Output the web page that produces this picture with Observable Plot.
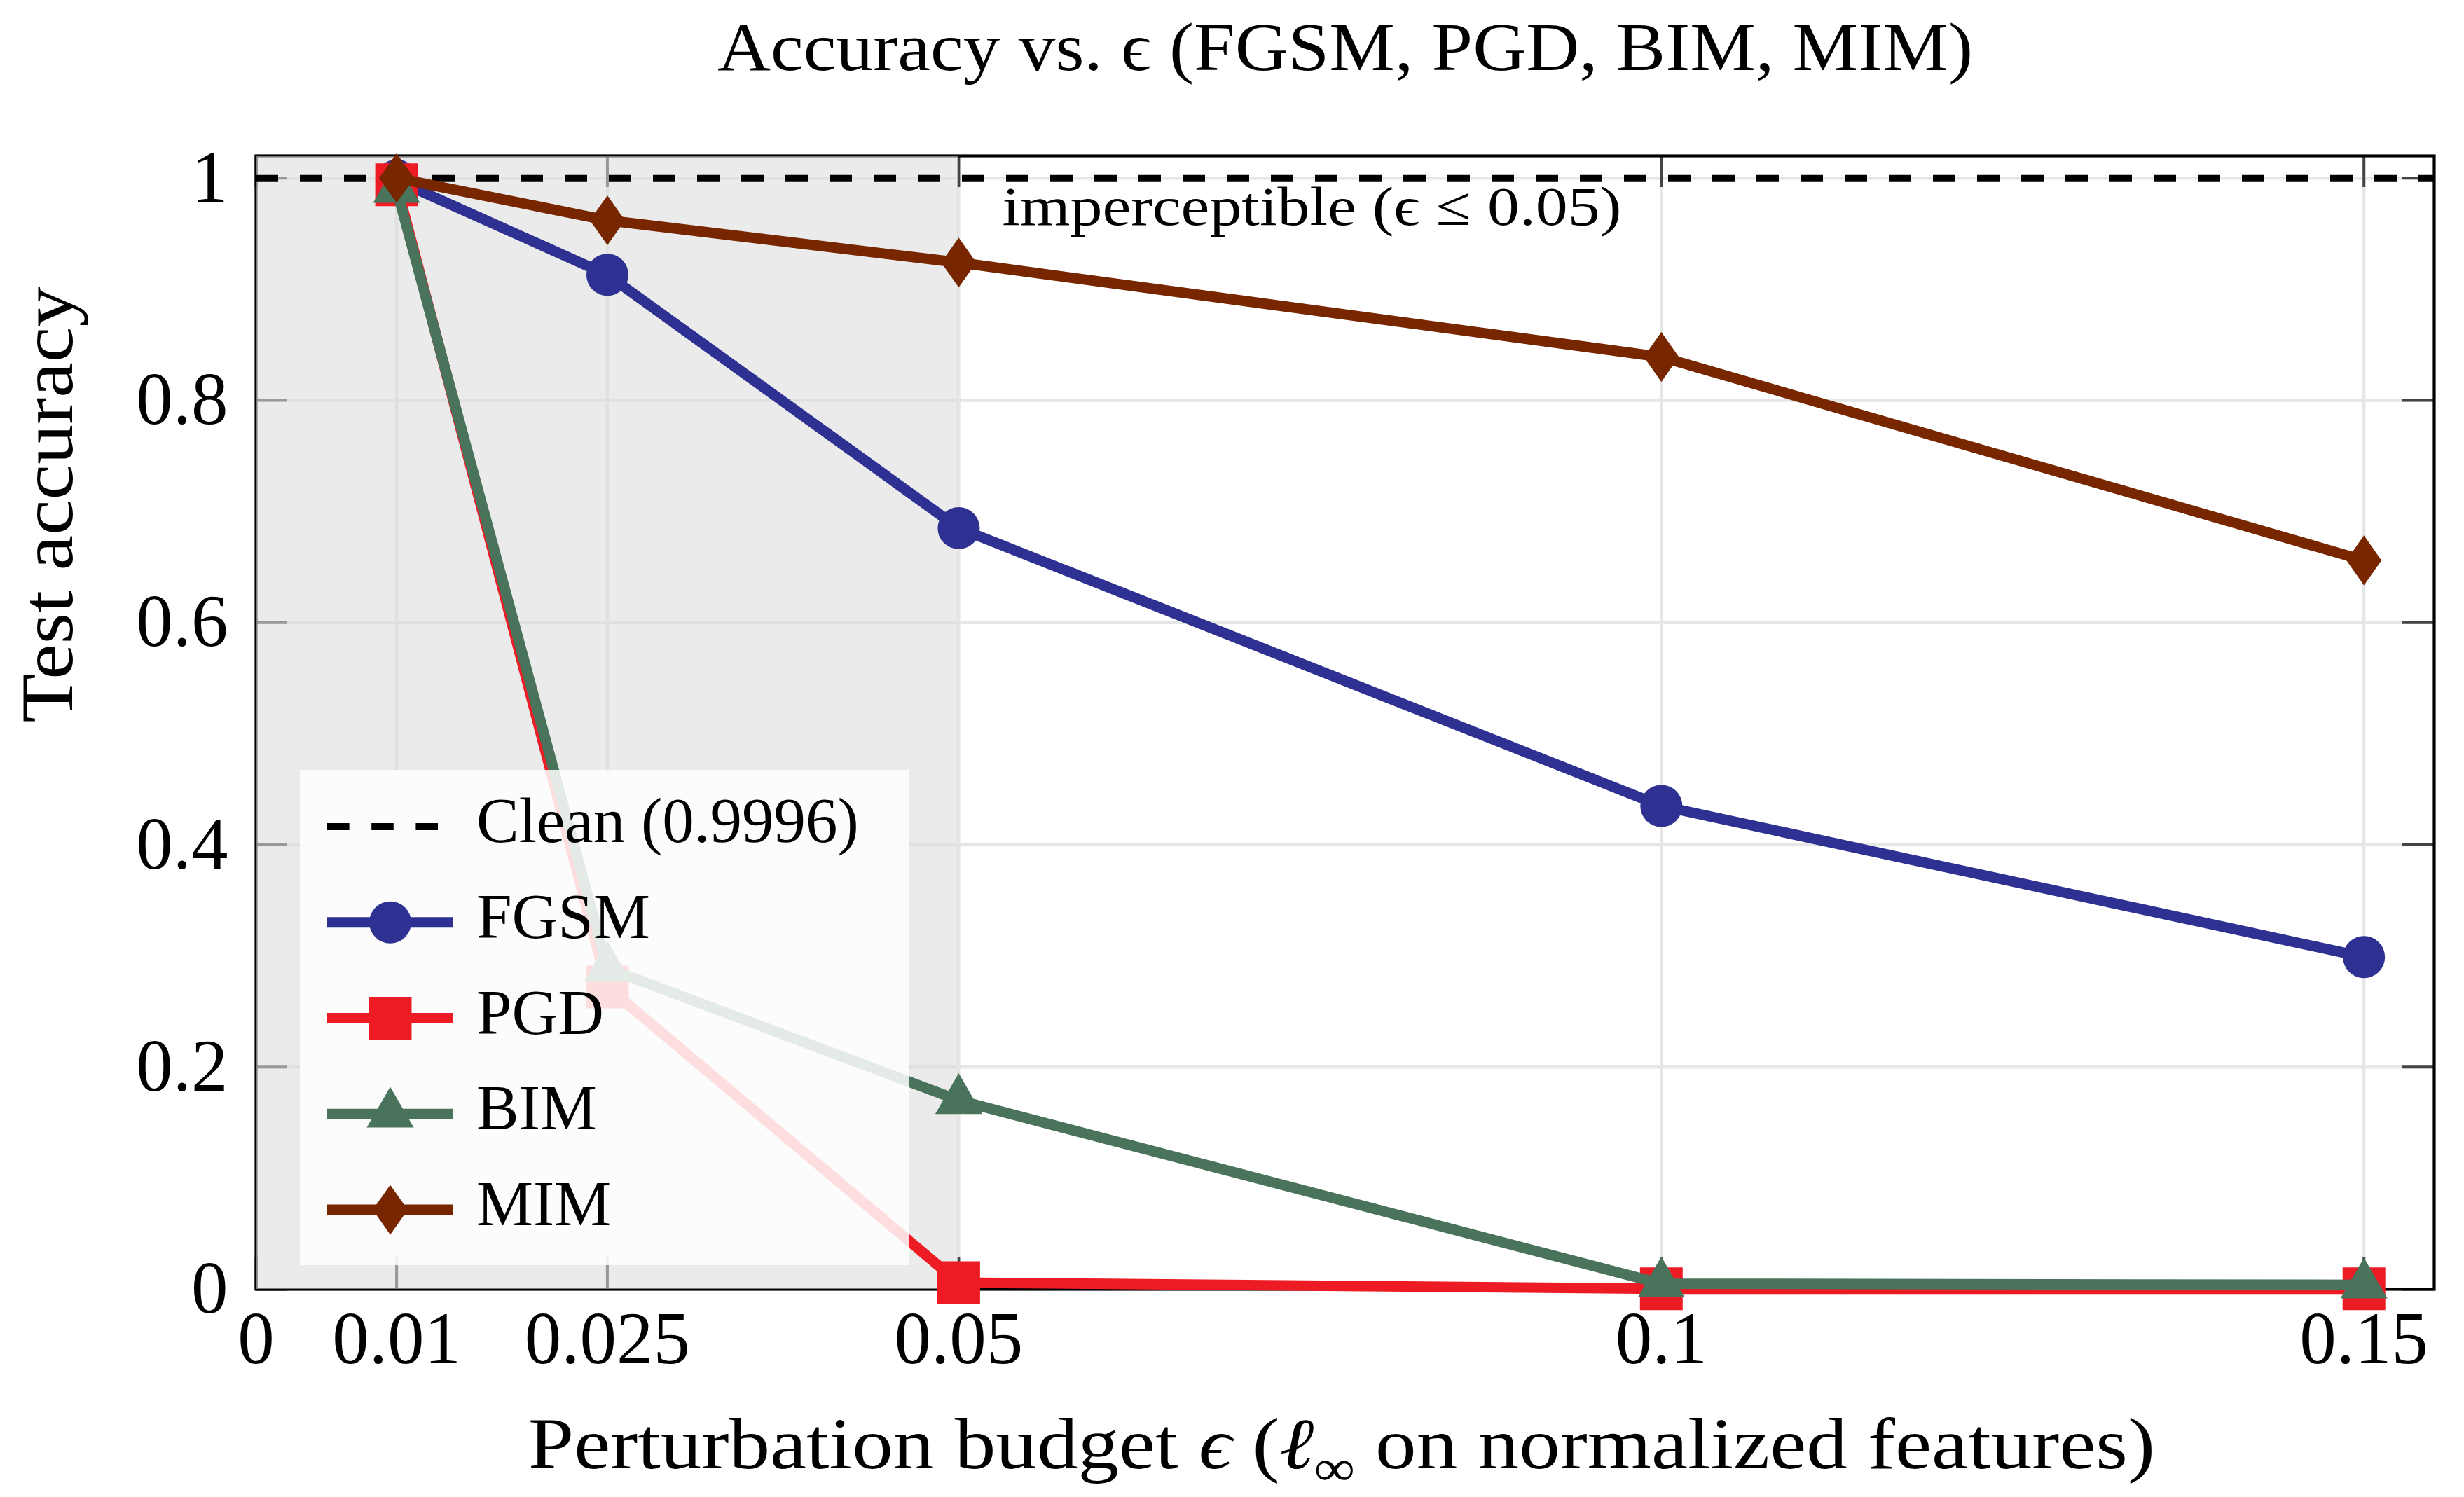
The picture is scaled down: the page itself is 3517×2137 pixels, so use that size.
<!DOCTYPE html>
<html>
<head>
<meta charset="utf-8">
<script src="https://cdn.jsdelivr.net/npm/d3@7"></script>
<script src="https://cdn.jsdelivr.net/npm/@observablehq/plot@0.6"></script>
<style>
  html, body { margin: 0; padding: 0; background: #ffffff; }
  svg { display: block; }
</style>
</head>
<body>
<div id="chart"></div>
<script>
// ---------- data ----------
const epsilons   = [0.01, 0.025, 0.05, 0.1, 0.15];
const fgsmAcc    = [0.998, 0.913, 0.685, 0.435, 0.299];
const pgdAcc     = [0.994, 0.272, 0.006, 0.0005, 0.0005];
const bimAcc     = [0.990, 0.289, 0.170, 0.005, 0.004];
const mimAcc     = [1.000, 0.962, 0.924, 0.839, 0.656];
const cleanAcc   = 0.9996;
const seriesNames = ["FGSM", "PGD", "BIM", "MIM"];
const seriesValues = [fgsmAcc, pgdAcc, bimAcc, mimAcc];
const xTickValues = [0, 0.01, 0.025, 0.05, 0.1, 0.15];
const yTickValues = [0, 0.2, 0.4, 0.6, 0.8, 1];
const shadedRange = [0, 0.05];
const titleText = "Accuracy vs. ϵ (FGSM, PGD, BIM, MIM)";
const xLabelText = "Perturbation budget ϵ (ℓ∞ on normalized features)";
const yLabelText = "Test accuracy";
const annotationText = "imperceptible (ϵ ≤ 0.05)";
const cleanLabel = "Clean (0.9996)";

// ---------- styles ----------
const seriesColors = ["#2e3192", "#ed1c24", "#4a735b", "#772600"];
const tallDiamond = {
  draw(context, size) {
    const h = Math.sqrt(size / 1.408), w = 0.704 * h;
    context.moveTo(0, -h); context.lineTo(w, 0); context.lineTo(0, h); context.lineTo(-w, 0); context.closePath();
  }
};
const seriesSymbols = [d3.symbolCircle, d3.symbolSquare, d3.symbolTriangle, tallDiamond];
const seriesR = [30, 34.4, 24.9, 23.8];

const W = 3517, H = 2137;
const mL = 365, mR = 43, mT = 222, mB = 297;
const frameW = W - mL - mR, frameH = H - mT - mB;
const tickLen = 45;
const font = "'Liberation Serif', 'DejaVu Serif', serif";

// long table
const rows = seriesNames.flatMap((name, s) => epsilons.map((e, i) => ({series: name, eps: e, acc: seriesValues[s][i]})));

const seriesMarks = seriesNames.flatMap((name, s) => {
  const d = rows.filter(r => r.series === name);
  return [
    Plot.line(d, {x: "eps", y: "acc", stroke: seriesColors[s], strokeWidth: 15, strokeLinejoin: "miter", strokeLinecap: "butt"}),
    Plot.dot(d, {x: "eps", y: "acc", fill: seriesColors[s], stroke: "none", symbol: seriesSymbols[s], r: seriesR[s]})
  ];
});

const svgEl = Plot.plot({
  width: W, height: H,
  marginLeft: mL, marginRight: mR, marginTop: mT, marginBottom: mB,
  style: {fontFamily: font, fontSize: "105px", background: "#ffffff", color: "#000"},
  x: {type: "linear", domain: [0, 0.155]},
  y: {type: "linear", domain: [0, 1.02]},
  marks: [
    Plot.gridX(epsilons, {stroke: "#e6e6e6", strokeOpacity: 1, strokeWidth: 4.5}),
    Plot.gridY(yTickValues.filter(v => v > 0), {stroke: "#e6e6e6", strokeOpacity: 1, strokeWidth: 4.5}),
    Plot.tickY(yTickValues, {y: d => d, stroke: "#444", strokeWidth: 4, insetRight: frameW - tickLen}),
    Plot.tickY(yTickValues, {y: d => d, stroke: "#444", strokeWidth: 4, insetLeft: frameW - tickLen}),
    Plot.tickX(xTickValues, {x: d => d, stroke: "#444", strokeWidth: 4, insetTop: frameH - tickLen}),
    Plot.tickX(xTickValues, {x: d => d, stroke: "#444", strokeWidth: 4, insetBottom: frameH - tickLen}),
    Plot.frame({stroke: "#000", strokeWidth: 4.2}),
    Plot.rect([shadedRange], {x1: d => d[0], x2: d => d[1], fill: "#dbdbdb", fillOpacity: 0.56}),
    Plot.ruleY([cleanAcc], {stroke: "#000", strokeWidth: 10, strokeDasharray: "32,31"}),
    ...seriesMarks,
    Plot.text([annotationText], {x: shadedRange[1], frameAnchor: "top", dx: 62, dy: 98, textAnchor: "start", lineAnchor: "bottom", fontSize: 79, fill: "#000"}),
    Plot.text([titleText], {frameAnchor: "top", dy: -123, lineAnchor: "bottom", fontSize: 98, fill: "#000"}),
    Plot.text([xLabelText], {frameAnchor: "bottom", dx: -5, dy: 255, lineAnchor: "bottom", fontSize: 103, fill: "#000"}),
    Plot.text([yLabelText], {frameAnchor: "left", rotate: -90, dx: -263, lineAnchor: "bottom", fontSize: 106, fill: "#000"}),
    Plot.axisX({ticks: xTickValues, tickFormat: d => String(d), tickSize: 0, tickPadding: 31, fontSize: 105, label: null}),
    Plot.axisY({ticks: yTickValues, tickFormat: d => String(d), tickSize: 0, tickPadding: 40, fontSize: 105, label: null})
  ]
});
document.getElementById("chart").appendChild(svgEl);

const svg = d3.select(svgEl);
function findText(str) {
  return svg.selectAll("text").filter(function () { return this.textContent === str; });
}
function fitText(sel, len) {
  sel.attr("textLength", len).attr("lengthAdjust", "spacingAndGlyphs");
}
fitText(findText(titleText), 1792);
fitText(findText(yLabelText), 622);
fitText(findText(annotationText), 884);

// x label with italic math and subscript
const xl = findText(xLabelText);
xl.each(function () {
  const t = d3.select(this);
  t.text(null);
  t.append("tspan").text("Perturbation budget ");
  t.append("tspan").attr("font-style", "italic").text("ϵ");
  t.append("tspan").text(" (");
  t.append("tspan").attr("font-style", "italic").text("ℓ");
  t.append("tspan").attr("font-size", 72).attr("dy", 24).text("∞");
  t.append("tspan").attr("dy", -24).text(" on normalized features)");
});
fitText(xl, 2322);

// ---------- legend ----------
const lg = svg.append("g").attr("font-family", font).attr("text-anchor", "start");
const lgX = mL + 63, lgY = mT + 877, lgW = 870, lgH = 707;
lg.append("rect").attr("x", lgX).attr("y", lgY).attr("width", lgW).attr("height", lgH)
  .attr("fill", "#ffffff").attr("fill-opacity", 0.85);
const rowY0 = lgY + 81, rowStep = 136.75;
const sx0 = lgX + 39, sx1 = lgX + 219, smid = lgX + 129, tx = lgX + 252;
const legendItems = [{label: cleanLabel, dashed: true}].concat(seriesNames.map((n, i) => ({label: n, idx: i})));
legendItems.forEach((it, k) => {
  const y = rowY0 + k * rowStep;
  if (it.dashed) {
    lg.append("line").attr("x1", sx0).attr("x2", sx1).attr("y1", y).attr("y2", y)
      .attr("stroke", "#000").attr("stroke-width", 10).attr("stroke-dasharray", "31.6,31.6");
  } else {
    lg.append("line").attr("x1", sx0).attr("x2", sx1).attr("y1", y).attr("y2", y)
      .attr("stroke", seriesColors[it.idx]).attr("stroke-width", 15);
    lg.append("path").attr("transform", `translate(${smid},${y})`)
      .attr("d", d3.symbol(seriesSymbols[it.idx], Math.PI * seriesR[it.idx] ** 2)())
      .attr("fill", seriesColors[it.idx]);
  }
  lg.append("text").attr("x", tx).attr("y", y + 22).attr("font-size", 91)
    .attr("text-anchor", "start").attr("fill", "#000").text(it.label);
});
</script>
</body>
</html>
